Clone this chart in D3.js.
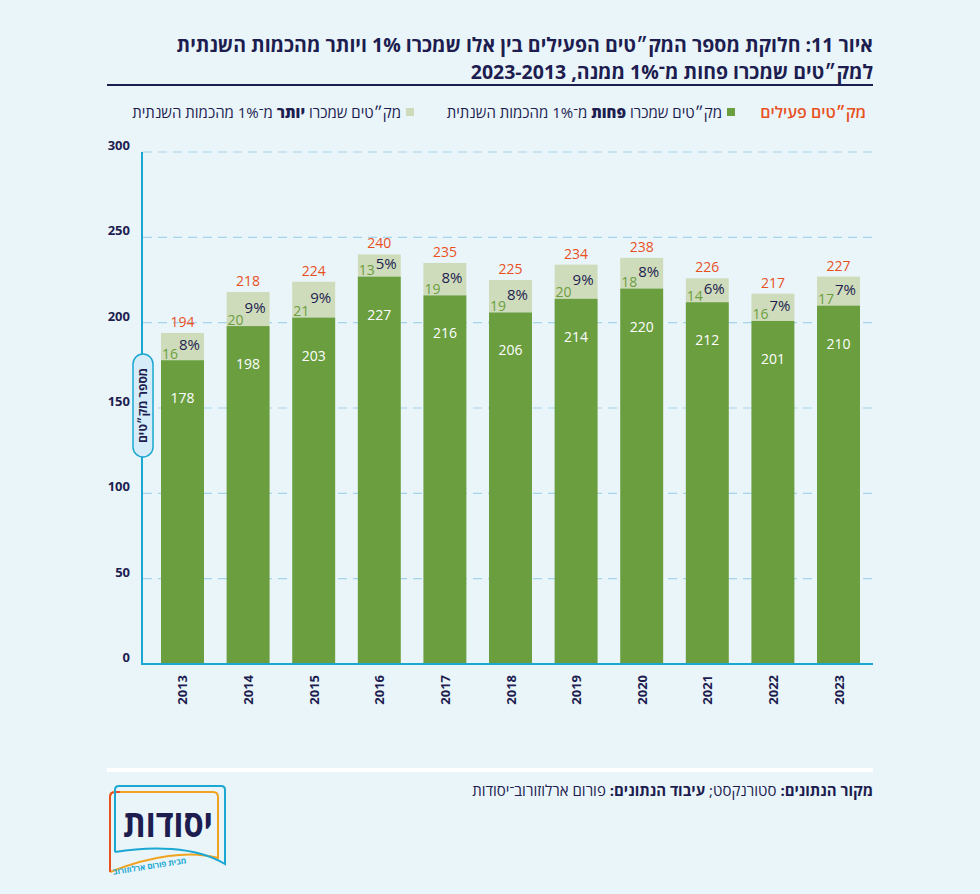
<!DOCTYPE html>
<html>
<head>
<meta charset="utf-8">
<script src="https://cdn.jsdelivr.net/npm/d3@7"></script>
<style>
  body { margin: 0; background: #eaf5fa; }
  svg { display: block; font-family: "Open Sans", "Liberation Sans", "DejaVu Sans", sans-serif; }
</style>
</head>
<body>
<div id="chart"></div>
<script>
// data
const years = ['2013', '2014', '2015', '2016', '2017', '2018', '2019', '2020', '2021', '2022', '2023'];
const lessThan1 = [178, 198, 203, 227, 216, 206, 214, 220, 212, 201, 210]; // sold less than 1%
const moreThan1 = [16, 20, 21, 13, 19, 19, 20, 18, 14, 16, 17];              // sold 1% or more
const totals = [194, 218, 224, 240, 235, 225, 234, 238, 226, 217, 227];
const pctMore = ['8%', '9%', '9%', '5%', '8%', '8%', '9%', '8%', '6%', '7%', '7%'];
const yTicks = [0, 50, 100, 150, 200, 250, 300];

const W = 980, H = 894;
const navy = '#1d1d50', orange = '#e8501e', green = '#6a9e3f', light = '#cfdcbb', cyan = '#1aa8d2';

const svg = d3.select('#chart').append('svg')
    .attr('width', W)
    .attr('height', H);

svg.append('rect').attr('width', W).attr('height', H).attr('fill', '#eaf5fa');

// title
const title = svg.append('g').attr('font-weight', 700).attr('fill', navy).attr('font-size', 19.5);
title.append('text')
    .attr('x', 873).attr('y', 52)
    .attr('direction', 'rtl').attr('text-anchor', 'start')
    .text('איור 11: חלוקת מספר המק״טים הפעילים בין אלו שמכרו 1% ויותר מהכמות השנתית');
title.append('text')
    .attr('x', 873).attr('y', 79)
    .attr('direction', 'rtl').attr('text-anchor', 'start')
    .text('למק״טים שמכרו פחות מ־1% ממנה, 2023-2013');
svg.append('line')
    .attr('x1', 107).attr('x2', 873).attr('y1', 85).attr('y2', 85)
    .attr('stroke', navy).attr('stroke-width', 2);

// legend
const legend = svg.append('g').attr('font-size', 15).attr('fill', navy).attr('font-weight', 500);
legend.append('text')
    .attr('x', 866).attr('y', 118)
    .attr('direction', 'rtl').attr('text-anchor', 'start')
    .attr('fill', orange).attr('font-weight', 600).attr('font-size', 16)
    .text('מק״טים פעילים');

legend.append('rect').attr('x', 727).attr('y', 108).attr('width', 8).attr('height', 8).attr('fill', green);
let t1 = legend.append('text')
    .attr('x', 722).attr('y', 118)
    .attr('direction', 'rtl').attr('text-anchor', 'start');
t1.append('tspan').text('מק״טים שמכרו ');
t1.append('tspan').attr('font-weight', 800).text('פחות');
t1.append('tspan').text(' מ־1% מהכמות השנתית');

legend.append('rect').attr('x', 406).attr('y', 108).attr('width', 8).attr('height', 8).attr('fill', light);
let t2 = legend.append('text')
    .attr('x', 401).attr('y', 118)
    .attr('direction', 'rtl').attr('text-anchor', 'start');
t2.append('tspan').text('מק״טים שמכרו ');
t2.append('tspan').attr('font-weight', 800).text('יותר');
t2.append('tspan').text(' מ־1% מהכמות השנתית');

// scales
const y = d3.scaleLinear().domain([0, 300]).range([664, 152]);
const x = d3.scaleBand().domain(years).range([145, 876]).paddingInner(0.345).paddingOuter(0.244);
const bw = x.bandwidth();

// gridlines
svg.append('g').selectAll('line')
    .data(yTicks.filter(d => d > 0))
    .enter()
    .append('line')
    .attr('x1', 143).attr('x2', 873)
    .attr('y1', d => y(d)).attr('y2', d => y(d))
    .attr('stroke', '#a5d4ec')
    .attr('stroke-width', 1.2)
    .attr('stroke-dasharray', '9,6');

// y tick labels
svg.append('g').selectAll('text')
    .data(yTicks)
    .enter()
    .append('text')
    .attr('x', 130)
    .attr('y', d => y(d) - 2)
    .attr('text-anchor', 'end')
    .attr('font-size', 13).attr('font-weight', 700).attr('fill', navy)
    .text(d => d);

// bars
const bars = svg.append('g').selectAll('g')
    .data(years)
    .enter()
    .append('g');

bars.append('rect')
    .attr('x', d => x(d))
    .attr('y', (d, i) => y(totals[i]))
    .attr('width', bw)
    .attr('height', (d, i) => y(lessThan1[i]) - y(totals[i]))
    .attr('fill', light);

bars.append('rect')
    .attr('x', d => x(d))
    .attr('y', (d, i) => y(lessThan1[i]))
    .attr('width', bw)
    .attr('height', (d, i) => y(0) - y(lessThan1[i]))
    .attr('fill', green);

// value labels
bars.append('text')
    .attr('x', d => x(d) + bw / 2)
    .attr('y', (d, i) => y(lessThan1[i]) + 43)
    .attr('text-anchor', 'middle')
    .attr('font-size', 14).attr('fill', '#fff')
    .text((d, i) => lessThan1[i]);

bars.append('text')
    .attr('x', d => x(d) + 1)
    .attr('y', (d, i) => y(lessThan1[i]) - 1.5)
    .attr('font-size', 14).attr('fill', green)
    .text((d, i) => moreThan1[i]);

// percent sits in the middle of the light segment
bars.append('text')
    .attr('x', d => x(d) + bw - 4)
    .attr('y', (d, i) => (y(lessThan1[i]) + y(totals[i])) / 2 + 3.5)
    .attr('text-anchor', 'end')
    .attr('font-size', 15).attr('fill', navy)
    .text((d, i) => pctMore[i]);

bars.append('text')
    .attr('x', d => x(d) + bw / 2)
    .attr('y', (d, i) => y(totals[i]) - 6)
    .attr('text-anchor', 'middle')
    .attr('font-size', 14).attr('fill', orange)
    .text((d, i) => totals[i]);

// axes lines
svg.append('line')
    .attr('x1', 142).attr('x2', 142).attr('y1', 152).attr('y2', 665)
    .attr('stroke', cyan).attr('stroke-width', 2);
svg.append('line')
    .attr('x1', 141).attr('x2', 873).attr('y1', 664).attr('y2', 664)
    .attr('stroke', cyan).attr('stroke-width', 2);

// x labels (rotated years)
svg.append('g').selectAll('text')
    .data(years)
    .enter()
    .append('text')
    .attr('transform', d => `translate(${x(d) + bw / 2 + 5},675) rotate(-90)`)
    .attr('text-anchor', 'end')
    .attr('font-size', 13).attr('font-weight', 700).attr('fill', navy)
    .text(d => d);

// y axis title pill
svg.append('rect')
    .attr('x', 133).attr('y', 354).attr('width', 20).attr('height', 103)
    .attr('rx', 10)
    .attr('fill', '#d6ecf8').attr('stroke', cyan).attr('stroke-width', 1.5);
svg.append('text')
    .attr('transform', 'translate(147,405.5) rotate(-90)')
    .attr('text-anchor', 'middle')
    .attr('font-size', 12).attr('font-weight', 700).attr('fill', navy)
    .text('מספר מק״טים');

// footer
svg.append('line')
    .attr('x1', 107).attr('x2', 873).attr('y1', 770).attr('y2', 770)
    .attr('stroke', '#fff').attr('stroke-width', 4);
let src = svg.append('text')
    .attr('x', 873).attr('y', 796)
    .attr('direction', 'rtl').attr('text-anchor', 'start')
    .attr('font-size', 15).attr('fill', navy);
src.append('tspan').attr('font-weight', 700).text('מקור הנתונים:');
src.append('tspan').text(' סטורנקסט; ');
src.append('tspan').attr('font-weight', 700).text('עיבוד הנתונים:');
src.append('tspan').text(' פורום ארלוזורוב־יסודות');

// logo
const logo = svg.append('g').attr('fill', 'none').attr('stroke-width', 2);
logo.append('path')
    .attr('d', 'M110,872 V797 Q110,792 115,792 H213 Q218,792 218,797 V858 C190,850 150,856 110,872')
    .attr('stroke', '#f0a31f');
logo.append('path')
    .attr('d', 'M110,872 V797 Q110,792 115,792 H120')
    .attr('stroke', orange);
logo.append('path')
    .attr('d', 'M115,852 V790 Q115,786 119,786 H221 Q225,786 225,790 V864 C195,846 150,846 115,852')
    .attr('stroke', cyan);
logo.append('text')
    .attr('x', 168).attr('y', 837)
    .attr('text-anchor', 'middle')
    .attr('font-size', 38).attr('font-weight', 700).attr('fill', navy).attr('stroke', 'none')
    .attr('textLength', 90).attr('lengthAdjust', 'spacingAndGlyphs')
    .text('יסודות');
logo.append('text')
    .attr('transform', 'translate(150,869) rotate(-9)')
    .attr('text-anchor', 'middle')
    .attr('font-size', 8).attr('font-weight', 700).attr('fill', cyan).attr('stroke', 'none')
    .text('מבית פורום ארלוזורוב');
</script>
</body>
</html>
